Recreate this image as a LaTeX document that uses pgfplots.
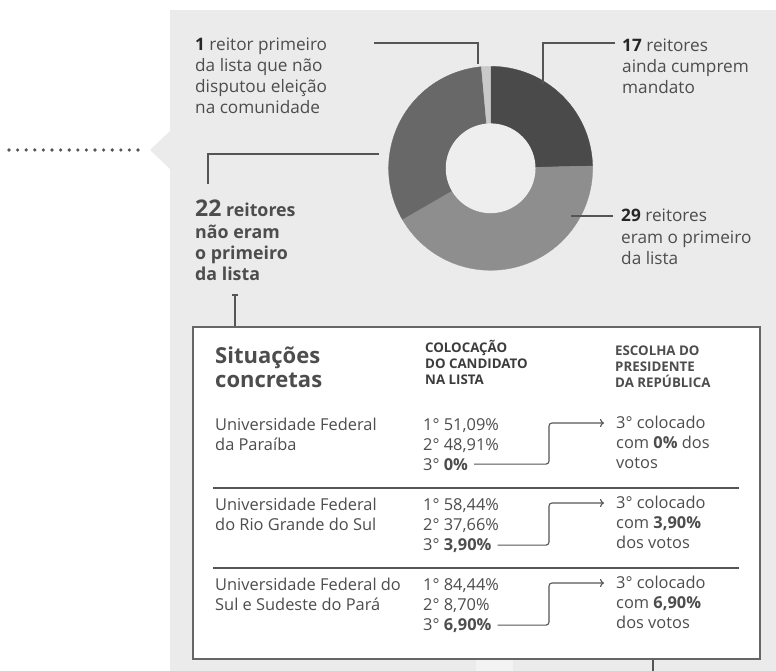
\documentclass[border=0pt]{standalone}
\usepackage{pgfplots}
\pgfplotsset{compat=1.18}
\usepackage{pgfplotstable}
\usepackage{fontspec}
\setmainfont{Open Sans}
\usetikzlibrary{arrows.meta}
\definecolor{panel}{HTML}{EBEBEB}
\definecolor{hole}{HTML}{EEEEEE}
\definecolor{txt}{HTML}{4D4D4D}
\definecolor{dark}{HTML}{262626}
\definecolor{lin}{HTML}{555555}
\definecolor{sA}{HTML}{4A4A4A}
\definecolor{sB}{HTML}{8E8E8E}
\definecolor{sC}{HTML}{686868}
\definecolor{sD}{HTML}{C9C9C9}
\definecolor{lite}{HTML}{F3F3F3}

\pgfplotstableread{
slice value
cumprem 17
primeiro 29
naoprimeiro 22
naodisputou 1
}\donut

\begin{document}%
\pgfplotstablegetelem{0}{value}\of\donut\let\va\pgfplotsretval%
\pgfplotstablegetelem{1}{value}\of\donut\let\vb\pgfplotsretval%
\pgfplotstablegetelem{2}{value}\of\donut\let\vc\pgfplotsretval%
\pgfplotstablegetelem{3}{value}\of\donut\let\vd\pgfplotsretval%
\pgfmathsetmacro\tot{\va+\vb+\vc+\vd}%
\pgfmathsetmacro\aA{90}%
\pgfmathsetmacro\aB{\aA-360*\va/\tot}%
\pgfmathsetmacro\aC{\aB-360*\vb/\tot}%
\pgfmathsetmacro\aD{\aC-360*\vc/\tot}%
\pgfmathsetmacro\aE{\aD-360*\vd/\tot}%
\begin{tikzpicture}[x=1pt,y=1pt,font=\fontsize{17.2}{21}\selectfont]
\useasboundingbox (0,0) rectangle (776,-671);
% panel
\fill[panel] (170,-10) rectangle (776,-671);
\fill[panel] (170,-131) -- (150,-150) -- (170,-169) -- cycle;
\draw[color=lin, line width=3.6pt, line cap=round, dash pattern=on 0pt off 8.6pt] (9,-150) -- (146,-150);
% donut
\begin{axis}[at={(481,-165)}, anchor=center, x=102pt, y=102pt, hide axis,
  xmin=-1, xmax=1, ymin=-1, ymax=1, clip=false]
\addplot[fill=sA, draw=sA, line width=0.3pt, domain=\aB:\aA, samples=60, variable=\t] ({cos(t)},{sin(t)}) -- (axis cs:0,0) -- cycle;
\addplot[fill=sB, draw=sB, line width=0.3pt, domain=\aC:\aB, samples=80, variable=\t] ({cos(t)},{sin(t)}) -- (axis cs:0,0) -- cycle;
\addplot[fill=sC, draw=sC, line width=0.3pt, domain=\aD:\aC, samples=70, variable=\t] ({cos(t)},{sin(t)}) -- (axis cs:0,0) -- cycle;
\addplot[fill=sD, draw=sD, line width=0.3pt, domain=\aE:\aD, samples=10, variable=\t] ({cos(t)},{sin(t)}) -- (axis cs:0,0) -- cycle;
\addplot[fill=hole, draw=none, domain=0:360, samples=90, variable=\t] ({0.44*cos(t)},{0.44*sin(t)}) -- cycle;
\end{axis}
% leader lines
\draw[lin, line width=1.3pt] (374,-43) -- (478,-43) -- (478,-64);
\draw[lin, line width=1.3pt] (615,-43) -- (543,-43) -- (543,-84);
\draw[lin, line width=1.3pt] (571,-216) -- (613,-216);
\draw[lin, line width=1.3pt] (208,-184) -- (208,-154) -- (379,-154);
% labels
\begin{scope}[every node/.style={anchor=base west, inner sep=0pt, text=txt}]
\node at (195,-51) {\textcolor{dark}{\textbf{1}} reitor primeiro};
\node at (195,-72) {da lista que não};
\node at (195,-93) {disputou eleição};
\node at (195,-114) {na comunidade};
\node at (622,-52) {\textcolor{dark}{\textbf{17}} reitores};
\node at (622,-73) {ainda cumprem};
\node at (622,-94) {mandato};
\node at (621,-222) {\textcolor{dark}{\textbf{29}} reitores};
\node at (621,-243) {eram o primeiro};
\node at (621,-264) {da lista};
\node[font=\fontsize{17.8}{21}\bfseries\selectfont] at (195,-217) {{\fontsize{23}{21}\selectfont 22} reitores};
\node[font=\fontsize{17.8}{21}\bfseries\selectfont] at (195,-238) {não eram};
\node[font=\fontsize{17.8}{21}\bfseries\selectfont] at (195,-259) {o primeiro};
\node[font=\fontsize{17.8}{21}\bfseries\selectfont] at (195,-280) {da lista};
\end{scope}
% connector to box
\draw[lin, line width=1.2pt] (235,-295) -- (235,-327);
\draw[lin, line width=1.2pt] (232,-295) -- (238,-295);
% bottom bits
\fill[lite] (476,-659) rectangle (513,-671);
\draw[lin, line width=1.4pt] (653,-659) -- (653,-671);
% box
\draw[fill=white, draw=lin!90!white, line width=1.2pt] (193,-327) rectangle (760,-659);
\draw[lin, line width=1.2pt] (213,-488) -- (739,-488);
\draw[lin, line width=1.2pt] (213,-568) -- (739,-568);
\begin{scope}[every node/.style={anchor=base west, inner sep=0pt, text=txt}, font=\fontsize{16.4}{20}\selectfont]
\node[font=\fontsize{22}{24}\bfseries\selectfont] at (215,-363) {Situações};
\node[font=\fontsize{22}{24}\bfseries\selectfont] at (215,-387) {concretas};
\node[font=\fontsize{13.3}{16}\bfseries\selectfont, text=dark!90!white] at (425,-352) {COLOCAÇÃO};
\node[font=\fontsize{13.3}{16}\bfseries\selectfont, text=dark!90!white] at (425,-368) {DO CANDIDATO};
\node[font=\fontsize{13.3}{16}\bfseries\selectfont, text=dark!90!white] at (425,-384) {NA LISTA};
\node[font=\fontsize{13.3}{16}\bfseries\selectfont, text=txt] at (615,-355) {ESCOLHA DO};
\node[font=\fontsize{13.3}{16}\bfseries\selectfont, text=txt] at (615,-371) {PRESIDENTE};
\node[font=\fontsize{13.3}{16}\bfseries\selectfont, text=txt] at (615,-387) {DA REPÚBLICA};
% row 1
\node at (215,-430) {Universidade Federal};
\node at (215,-450) {da Paraíba};
\node at (423,-430) {1° 51,09\%};
\node at (423,-450) {2° 48,91\%};
\node (r1) at (423,-470) {3° \textbf{0\%}};
\node at (616,-428) {3° colocado};
\node at (616,-448) {com \textbf{0\%} dos};
\node at (616,-468) {votos};
% row 2
\node at (215,-510) {Universidade Federal};
\node at (215,-530) {do Rio Grande do Sul};
\node at (423,-510) {1° 58,44\%};
\node at (423,-530) {2° 37,66\%};
\node (r2) at (423,-550) {3° \textbf{3,90\%}};
\node at (616,-508) {3° colocado};
\node at (616,-528) {com \textbf{3,90\%}};
\node at (616,-548) {dos votos};
% row 3
\node at (215,-590) {Universidade Federal do};
\node at (215,-610) {Sul e Sudeste do Pará};
\node at (423,-590) {1° 84,44\%};
\node at (423,-610) {2° 8,70\%};
\node (r3) at (423,-630) {3° \textbf{6,90\%}};
\node at (616,-588) {3° colocado};
\node at (616,-608) {com \textbf{6,90\%}};
\node at (616,-628) {dos votos};
\end{scope}
\foreach \r/\yt in {r1/-423, r2/-503, r3/-583}{
  \draw[lin, line width=1.1pt, rounded corners=3pt, -{To[length=4pt,width=8pt]}]
    ([xshift=6pt]\r.east) -| (549,\yt) -- (604,\yt);
}
\end{tikzpicture}%
\end{document}
